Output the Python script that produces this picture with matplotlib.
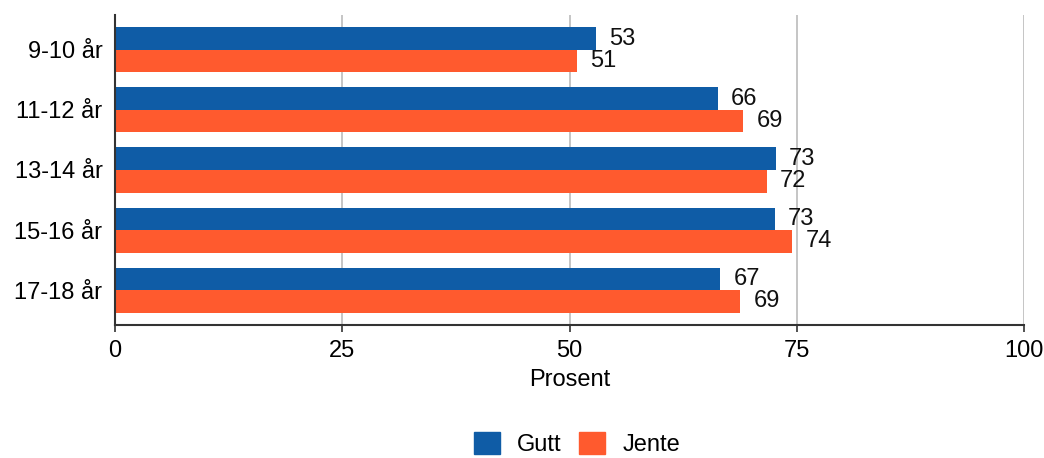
import matplotlib
matplotlib.use("Agg")
import matplotlib.pyplot as plt
import numpy as np
from matplotlib.patches import Patch

plt.rcParams['font.family'] = ['Liberation Sans', 'DejaVu Sans']

categories = ["9-10 år", "11-12 år", "13-14 år", "15-16 år", "17-18 år"]
gutt = [52.9, 66.3, 72.7, 72.6, 66.6]
jente = [50.8, 69.1, 71.7, 74.5, 68.8]
series_names = ["Gutt", "Jente"]
colors = ["#0f5ca6", "#ff5a2e"]
xticks = [0, 25, 50, 75, 100]

FS = 17

fig = plt.figure(figsize=(10.44, 4.58), dpi=100)
ax = fig.add_axes([115/1044, 1 - 325/458, (1024-115)/1044, (325-15)/458])

y = np.arange(len(categories))
h = 0.375
ax.barh(y - h/2, gutt, height=h, color=colors[0], zorder=3)
ax.barh(y + h/2, jente, height=h, color=colors[1], zorder=3)

for yi, v in zip(y - h/2, gutt):
    ax.annotate(f"{int(round(v))}", (v, yi), xytext=(9.5, 0), textcoords="offset points",
                va="center", ha="left", fontsize=FS, color="#111111")
for yi, v in zip(y + h/2, jente):
    ax.annotate(f"{int(round(v))}", (v, yi), xytext=(9.5, 0), textcoords="offset points",
                va="center", ha="left", fontsize=FS, color="#111111")

ax.set_xlim(0, 100)
ax.set_ylim(len(categories) - 1 + 0.583, -0.583)
ax.set_yticks(y)
ax.set_yticklabels(categories, fontsize=FS)
ax.set_xticks(xticks)
ax.set_xticklabels([str(t) for t in xticks], fontsize=FS)
ax.tick_params(axis='y', length=0, pad=9)
ax.tick_params(axis='x', length=5, width=1.2, color="#333333", pad=6)
ax.set_xlabel("Prosent", fontsize=FS, labelpad=5)

ax.grid(axis='x', color="#bbbbbb", linewidth=1.2, zorder=0)
for s in ['top', 'right']:
    ax.spines[s].set_visible(False)
for s in ['left', 'bottom']:
    ax.spines[s].set_color("#333333")
    ax.spines[s].set_linewidth(1.5)
    ax.spines[s].set_zorder(4)

handles = [Patch(color=c, label=n) for c, n in zip(colors, series_names)]
fig.legend(handles=handles, loc="center", bbox_to_anchor=(577/1044, 1 - 444/458),
           ncol=2, frameon=False, fontsize=FS, handlelength=1.1, handleheight=1.1,
           columnspacing=0.75, handletextpad=0.72, borderpad=0.2)

fig.savefig("out.png", dpi=100)
